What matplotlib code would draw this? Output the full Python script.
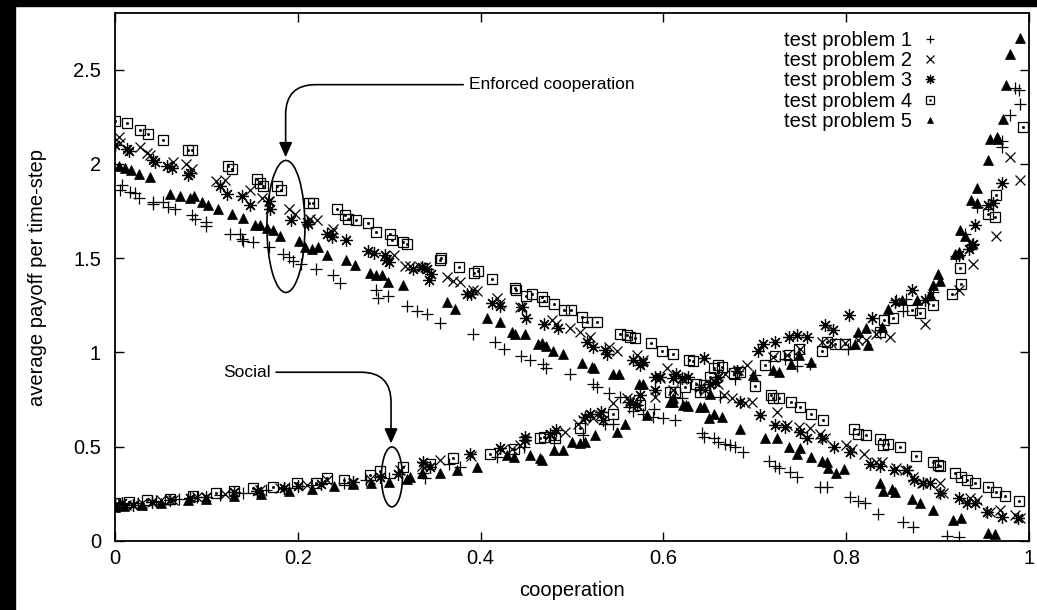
import numpy as np
import matplotlib
matplotlib.use('Agg')
import matplotlib.pyplot as plt
from matplotlib.patches import Ellipse, Rectangle

plt.rcParams['font.family'] = ['Liberation Sans', 'DejaVu Sans']

# (cooperation, payoff) pairs; each problem has a falling and a rising branch
p1_falling = np.array([
    [0.008, 1.89], [0.005, 1.86], [0.016, 1.85], [0.022, 1.845], [0.026, 1.82], [0.042, 1.80],
    [0.042, 1.785], [0.053, 1.80], [0.058, 1.77], [0.066, 1.76], [0.084, 1.73], [0.088, 1.71],
    [0.10, 1.69], [0.10, 1.67], [0.126, 1.63], [0.137, 1.63], [0.139, 1.60], [0.14, 1.59],
    [0.151, 1.585], [0.168, 1.56], [0.184, 1.52], [0.19, 1.505], [0.195, 1.485], [0.204, 1.47],
    [0.22, 1.44], [0.239, 1.41], [0.246, 1.37], [0.286, 1.33], [0.288, 1.29], [0.299, 1.30],
    [0.319, 1.245], [0.33, 1.22], [0.341, 1.205], [0.356, 1.156], [0.392, 1.096], [0.416, 1.056],
    [0.426, 1.02], [0.444, 0.98], [0.454, 0.96], [0.468, 0.94], [0.472, 0.92], [0.498, 0.885],
    [0.523, 0.83], [0.527, 0.815], [0.54, 0.785], [0.553, 0.765], [0.562, 0.711], [0.567, 0.69],
    [0.578, 0.673], [0.589, 0.66], [0.60, 0.65], [0.613, 0.64], [0.642, 0.574], [0.644, 0.55],
    [0.655, 0.544], [0.66, 0.526], [0.667, 0.517], [0.673, 0.508], [0.678, 0.50], [0.687, 0.473],
    [0.715, 0.425], [0.722, 0.397], [0.726, 0.385], [0.739, 0.367], [0.746, 0.34], [0.771, 0.288],
    [0.779, 0.284], [0.804, 0.231], [0.813, 0.213], [0.821, 0.203], [0.835, 0.143], [0.862, 0.102],
    [0.873, 0.076], [0.91, 0.026], [0.923, 0.023]])
p1_rising = np.array([
    [0.0, 0.19], [0.01, 0.195], [0.025, 0.20], [0.045, 0.21], [0.07, 0.225], [0.09, 0.235],
    [0.115, 0.245], [0.14, 0.255], [0.165, 0.27], [0.19, 0.28], [0.215, 0.295], [0.25, 0.31],
    [0.275, 0.325], [0.30, 0.335], [0.337, 0.358], [0.339, 0.332], [0.365, 0.41], [0.377, 0.394],
    [0.418, 0.446], [0.447, 0.50], [0.48, 0.535], [0.512, 0.56], [0.536, 0.623], [0.545, 0.623],
    [0.59, 0.70], [0.62, 0.76], [0.64, 0.80], [0.662, 0.764], [0.678, 0.86], [0.70, 0.88],
    [0.733, 0.967], [0.746, 0.93], [0.76, 0.94], [0.802, 1.02], [0.837, 1.12], [0.855, 1.28],
    [0.862, 1.22], [0.865, 1.285], [0.895, 1.32], [0.92, 1.51], [0.93, 1.63], [0.943, 1.77],
    [0.97, 2.12], [0.971, 2.09], [0.979, 2.26], [0.985, 2.40], [0.989, 2.39], [0.99, 2.32]])

p2_falling = np.array([
    [0.004, 2.14], [0.005, 2.11], [0.027, 2.09], [0.035, 2.06], [0.038, 2.045], [0.064, 2.01],
    [0.078, 2.0], [0.084, 1.975], [0.111, 1.91], [0.12, 1.915], [0.148, 1.86], [0.161, 1.82],
    [0.168, 1.805], [0.19, 1.76], [0.197, 1.735], [0.213, 1.71], [0.221, 1.70], [0.239, 1.655],
    [0.237, 1.64], [0.305, 1.515], [0.317, 1.46], [0.323, 1.46], [0.334, 1.453], [0.339, 1.453],
    [0.363, 1.40], [0.37, 1.38], [0.377, 1.375], [0.392, 1.33], [0.396, 1.325], [0.418, 1.29],
    [0.421, 1.26], [0.443, 1.24], [0.478, 1.174], [0.483, 1.15], [0.498, 1.127], [0.509, 1.11],
    [0.52, 1.08], [0.54, 1.03], [0.549, 1.01], [0.571, 0.985], [0.578, 0.96], [0.604, 0.915],
    [0.62, 0.86], [0.645, 0.80], [0.666, 0.773], [0.675, 0.756], [0.689, 0.733], [0.697, 0.738],
    [0.724, 0.685], [0.735, 0.614], [0.748, 0.605], [0.76, 0.597], [0.771, 0.57], [0.777, 0.544],
    [0.80, 0.508], [0.806, 0.49], [0.82, 0.464], [0.833, 0.42], [0.839, 0.42], [0.855, 0.385],
    [0.864, 0.376], [0.873, 0.34], [0.883, 0.306], [0.892, 0.306], [0.903, 0.306], [0.906, 0.253],
    [0.935, 0.226], [0.943, 0.217], [0.957, 0.155], [0.968, 0.164], [0.985, 0.138], [0.99, 0.12]])
p2_rising = np.array([
    [0.0, 0.185], [0.012, 0.19], [0.03, 0.20], [0.05, 0.215], [0.064, 0.22], [0.09, 0.235],
    [0.12, 0.25], [0.159, 0.27], [0.18, 0.28], [0.21, 0.295], [0.232, 0.323], [0.26, 0.31],
    [0.279, 0.33], [0.312, 0.376], [0.336, 0.40], [0.356, 0.43], [0.39, 0.45], [0.423, 0.48],
    [0.434, 0.49], [0.443, 0.508], [0.476, 0.561], [0.492, 0.579], [0.507, 0.623], [0.512, 0.64],
    [0.523, 0.65], [0.531, 0.667], [0.545, 0.73], [0.56, 0.756], [0.563, 0.747], [0.591, 0.764],
    [0.596, 0.862], [0.611, 0.80], [0.64, 0.817], [0.66, 0.835], [0.667, 0.888], [0.682, 0.906],
    [0.691, 0.932], [0.72, 0.976], [0.735, 0.985], [0.749, 1.02], [0.773, 1.055], [0.783, 1.05],
    [0.799, 1.05], [0.813, 1.065], [0.822, 1.065], [0.833, 1.10], [0.848, 1.08], [0.886, 1.15],
    [0.923, 1.33], [0.939, 1.47], [0.964, 1.62], [0.979, 2.035], [0.99, 1.916]])

p3_falling = np.array([
    [0.0, 2.10], [0.013, 2.08], [0.015, 2.07], [0.042, 2.02], [0.044, 2.01], [0.057, 1.99],
    [0.062, 1.98], [0.082, 1.95], [0.08, 1.94], [0.115, 1.885], [0.122, 1.84], [0.139, 1.83],
    [0.148, 1.78], [0.168, 1.805], [0.17, 1.76], [0.193, 1.70], [0.21, 1.69], [0.211, 1.68],
    [0.232, 1.63], [0.237, 1.61], [0.253, 1.595], [0.277, 1.54], [0.283, 1.525], [0.295, 1.515],
    [0.297, 1.49], [0.30, 1.48], [0.326, 1.444], [0.336, 1.453], [0.341, 1.444], [0.346, 1.418],
    [0.343, 1.386], [0.385, 1.31], [0.39, 1.31], [0.412, 1.26], [0.421, 1.245], [0.445, 1.24],
    [0.45, 1.185], [0.469, 1.15], [0.485, 1.127], [0.516, 1.056], [0.523, 1.03], [0.536, 1.015],
    [0.538, 0.994], [0.567, 0.96], [0.574, 0.932], [0.578, 0.95], [0.596, 0.87], [0.614, 0.888],
    [0.627, 0.87], [0.651, 0.835], [0.656, 0.844], [0.684, 0.738], [0.706, 0.667], [0.722, 0.614],
    [0.733, 0.602], [0.749, 0.579], [0.757, 0.544], [0.773, 0.544], [0.787, 0.50], [0.804, 0.473],
    [0.826, 0.41], [0.837, 0.40], [0.852, 0.376], [0.866, 0.376], [0.874, 0.323], [0.884, 0.306],
    [0.892, 0.309], [0.903, 0.253], [0.923, 0.226], [0.932, 0.20], [0.941, 0.20], [0.954, 0.155],
    [0.97, 0.129], [0.988, 0.12]])
p3_rising = np.array([
    [0.0, 0.19], [0.008, 0.2], [0.02, 0.19], [0.04, 0.205], [0.06, 0.215], [0.082, 0.23],
    [0.1, 0.235], [0.13, 0.26], [0.155, 0.265], [0.185, 0.28], [0.2, 0.29], [0.225, 0.3],
    [0.26, 0.315], [0.29, 0.34], [0.31, 0.355], [0.337, 0.42], [0.345, 0.394], [0.388, 0.464],
    [0.421, 0.491], [0.449, 0.535], [0.449, 0.553], [0.476, 0.57], [0.483, 0.588], [0.514, 0.658],
    [0.52, 0.676], [0.532, 0.685], [0.534, 0.64], [0.563, 0.738], [0.571, 0.72], [0.574, 0.773],
    [0.591, 0.87], [0.591, 0.80], [0.611, 0.862], [0.62, 0.862], [0.644, 0.973], [0.66, 0.87],
    [0.68, 0.90], [0.704, 1.008], [0.709, 1.047], [0.722, 1.056], [0.737, 1.082], [0.746, 1.09],
    [0.757, 1.082], [0.777, 1.144], [0.786, 1.12], [0.803, 1.197], [0.828, 1.185], [0.853, 1.267],
    [0.872, 1.33], [0.886, 1.276], [0.923, 1.515], [0.934, 1.55], [0.938, 1.568], [0.939, 1.577],
    [0.941, 1.674], [0.955, 1.78], [0.961, 1.79], [0.971, 1.90]])

p4_falling = np.array([
    [0.0, 2.226], [0.013, 2.216], [0.027, 2.18], [0.036, 2.16], [0.053, 2.124], [0.08, 2.075],
    [0.084, 2.075], [0.124, 1.99], [0.128, 1.975], [0.155, 1.92], [0.159, 1.90], [0.162, 1.885],
    [0.177, 1.88], [0.182, 1.86], [0.212, 1.79], [0.217, 1.79], [0.243, 1.76], [0.252, 1.727],
    [0.255, 1.71], [0.264, 1.70], [0.277, 1.686], [0.286, 1.64], [0.301, 1.626], [0.303, 1.594],
    [0.315, 1.585], [0.319, 1.577], [0.356, 1.49], [0.357, 1.50], [0.376, 1.453], [0.393, 1.42],
    [0.397, 1.43], [0.412, 1.388], [0.438, 1.344], [0.439, 1.333], [0.45, 1.30], [0.456, 1.31],
    [0.467, 1.294], [0.469, 1.273], [0.48, 1.255], [0.491, 1.227], [0.499, 1.224], [0.511, 1.188],
    [0.516, 1.16], [0.527, 1.16], [0.553, 1.10], [0.56, 1.09], [0.563, 1.08], [0.569, 1.074],
    [0.586, 1.05], [0.598, 1.01], [0.61, 0.99], [0.628, 0.962], [0.632, 0.955], [0.66, 0.932],
    [0.70, 0.82], [0.718, 0.773], [0.72, 0.756], [0.726, 0.756], [0.74, 0.738], [0.749, 0.708],
    [0.762, 0.673], [0.775, 0.641], [0.809, 0.592], [0.813, 0.57], [0.822, 0.561], [0.837, 0.539],
    [0.84, 0.508], [0.846, 0.517], [0.859, 0.496], [0.876, 0.45], [0.895, 0.42], [0.90, 0.403],
    [0.903, 0.397], [0.919, 0.362], [0.926, 0.34], [0.932, 0.323], [0.941, 0.309], [0.955, 0.288],
    [0.964, 0.261], [0.974, 0.238], [0.989, 0.213]])
p4_rising = np.array([
    [0.0, 0.2], [0.015, 0.205], [0.035, 0.215], [0.06, 0.225], [0.085, 0.24], [0.11, 0.255],
    [0.13, 0.265], [0.151, 0.28], [0.173, 0.288], [0.199, 0.305], [0.22, 0.31], [0.232, 0.332],
    [0.25, 0.325], [0.279, 0.35], [0.29, 0.37], [0.315, 0.394], [0.345, 0.41], [0.37, 0.438],
    [0.41, 0.464], [0.436, 0.49], [0.465, 0.544], [0.469, 0.553], [0.481, 0.544], [0.509, 0.597],
    [0.545, 0.676], [0.574, 0.72], [0.607, 0.79], [0.613, 0.79], [0.624, 0.817], [0.636, 0.835],
    [0.64, 0.79], [0.644, 0.826], [0.651, 0.87], [0.655, 0.915], [0.664, 0.923], [0.677, 0.89],
    [0.684, 0.897], [0.711, 0.932], [0.722, 0.98], [0.737, 0.985], [0.748, 1.02], [0.773, 1.01],
    [0.779, 1.056], [0.788, 1.047], [0.799, 1.047], [0.837, 1.11], [0.841, 1.17], [0.851, 1.185],
    [0.872, 1.224], [0.881, 1.21], [0.895, 1.25], [0.916, 1.31], [0.925, 1.45], [0.926, 1.365],
    [0.955, 1.735], [0.963, 1.718], [0.964, 1.833], [0.993, 2.198]])

p5_falling = np.array([
    [0.004, 1.986], [0.011, 1.977], [0.018, 1.965], [0.026, 1.947], [0.038, 1.93], [0.06, 1.84],
    [0.071, 1.827], [0.082, 1.82], [0.086, 1.827], [0.095, 1.80], [0.102, 1.78], [0.113, 1.76],
    [0.128, 1.736], [0.14, 1.714], [0.153, 1.674], [0.159, 1.677], [0.166, 1.66], [0.173, 1.647],
    [0.181, 1.615], [0.201, 1.59], [0.208, 1.56], [0.215, 1.55], [0.222, 1.56], [0.232, 1.515],
    [0.253, 1.49], [0.263, 1.462], [0.279, 1.42], [0.286, 1.41], [0.292, 1.41], [0.299, 1.373],
    [0.315, 1.356], [0.363, 1.267], [0.372, 1.232], [0.407, 1.185], [0.421, 1.16], [0.434, 1.108],
    [0.438, 1.10], [0.449, 1.096], [0.463, 1.043], [0.467, 1.05], [0.472, 1.033], [0.479, 1.01],
    [0.49, 0.994], [0.511, 0.945], [0.522, 0.923], [0.524, 0.92], [0.545, 0.885], [0.551, 0.885],
    [0.578, 0.83], [0.61, 0.76], [0.627, 0.715], [0.64, 0.711], [0.644, 0.711], [0.655, 0.676],
    [0.65, 0.65], [0.664, 0.655], [0.684, 0.592], [0.711, 0.544], [0.724, 0.544], [0.737, 0.496],
    [0.749, 0.491], [0.746, 0.461], [0.762, 0.443], [0.773, 0.425], [0.779, 0.42], [0.78, 0.385],
    [0.789, 0.358], [0.798, 0.38], [0.837, 0.309], [0.84, 0.266], [0.85, 0.274], [0.853, 0.261],
    [0.872, 0.221], [0.881, 0.203], [0.895, 0.164], [0.917, 0.111], [0.926, 0.12], [0.955, 0.044],
    [0.963, 0.037]])
p5_rising = np.array([
    [0.0, 0.18], [0.01, 0.185], [0.03, 0.19], [0.05, 0.2], [0.08, 0.215], [0.1, 0.225],
    [0.13, 0.24], [0.16, 0.25], [0.19, 0.265], [0.215, 0.275], [0.24, 0.29], [0.26, 0.3],
    [0.28, 0.305], [0.30, 0.314], [0.32, 0.33], [0.323, 0.34], [0.336, 0.358], [0.356, 0.358],
    [0.374, 0.376], [0.396, 0.394], [0.429, 0.455], [0.436, 0.446], [0.454, 0.455], [0.465, 0.438],
    [0.467, 0.429], [0.48, 0.482], [0.49, 0.482], [0.50, 0.526], [0.509, 0.52], [0.514, 0.526],
    [0.525, 0.561], [0.549, 0.579], [0.558, 0.623], [0.573, 0.835], [0.582, 0.667], [0.607, 0.738],
    [0.611, 0.738], [0.621, 0.72], [0.625, 0.72], [0.651, 0.782], [0.698, 0.88], [0.72, 0.906],
    [0.726, 0.897], [0.74, 0.94], [0.748, 0.985], [0.762, 0.95], [0.81, 1.047], [0.813, 1.11],
    [0.822, 1.127], [0.824, 1.04], [0.839, 1.135], [0.846, 1.232], [0.861, 1.276], [0.877, 1.276],
    [0.892, 1.31], [0.895, 1.356], [0.90, 1.418], [0.903, 1.38], [0.919, 1.524], [0.923, 1.53],
    [0.925, 1.65], [0.93, 1.62], [0.937, 1.81], [0.943, 1.79], [0.943, 1.87], [0.955, 2.02],
    [0.957, 2.13], [0.965, 2.14], [0.966, 2.13], [0.972, 2.24], [0.975, 2.42], [0.979, 2.58],
    [0.99, 2.67]])

labels = ['test problem 1', 'test problem 2', 'test problem 3', 'test problem 4', 'test problem 5']
x_ticks = [0, 0.2, 0.4, 0.6, 0.8, 1]
x_ticklabels = ['0', '0.2', '0.4', '0.6', '0.8', '1']
y_ticks = [0, 0.5, 1, 1.5, 2, 2.5]
y_ticklabels = ['0', '0.5', '1', '1.5', '2', '2.5']

fig = plt.figure(figsize=(10.37, 6.10), dpi=100)
# black strips along the top and left edge of the original screenshot
fig.patches.append(Rectangle((0, 1 - 6 / 610), 1, 6 / 610, transform=fig.transFigure,
                             color='black', zorder=0))
fig.patches.append(Rectangle((0, 0), 15 / 1037, 1, transform=fig.transFigure,
                             color='black', zorder=0))

ax = fig.add_axes([115 / 1037, 1 - 541 / 610, 914 / 1037, 528 / 610])

styles = [
    dict(marker='+', ms=8, mew=0.9, color='black'),
    dict(marker='x', ms=7, mew=0.9, color='black'),
    dict(marker=(8, 2, 0), ms=9, mew=0.9, color='black'),
    dict(marker='s', ms=7, mew=0.9, mfc='none', mec='black'),
    dict(marker='^', ms=6.5, mew=0.5, color='black'),
]
data = [(p1_falling, p1_rising), (p2_falling, p2_rising), (p3_falling, p3_rising),
        (p4_falling, p4_rising), (p5_falling, p5_rising)]

handles = []
for i, ((fall, rise), st) in enumerate(zip(data, styles)):
    pts = np.vstack([fall, rise])
    h, = ax.plot(pts[:, 0], pts[:, 1], ls='none', **st)
    if i == 3:
        # gnuplot's open square carries a dot in the middle
        d, = ax.plot(pts[:, 0], pts[:, 1], ls='none', marker='s', ms=1.0, color='black')
        handles.append((h, d))
    else:
        handles.append(h)

ax.legend(handles, labels, loc='upper right', bbox_to_anchor=(0.9026, 0.966),
          frameon=False, markerfirst=False, fontsize=14.5, handlelength=1.0,
          handletextpad=0.4, labelspacing=0.06, borderpad=0, borderaxespad=0,
          markerscale=0.75)

# annotations
ax.add_patch(Ellipse((0.187, 1.668), 0.0416, 0.70, fill=False, lw=1.2, color='black'))
ax.add_patch(Ellipse((0.303, 0.34), 0.023, 0.318, fill=False, lw=1.2, color='black'))
arrow = dict(arrowstyle='-|>,head_length=0.45,head_width=0.2', mutation_scale=20,
             color='black', lw=1.2, shrinkA=2, shrinkB=0)
ax.annotate('Enforced cooperation', xy=(0.1867, 2.035), xytext=(0.387, 2.42),
            fontsize=12.5, ha='left', va='center',
            arrowprops=dict(connectionstyle='angle,angleA=0,angleB=90,rad=30', **arrow))
ax.annotate('Social', xy=(0.302, 0.517), xytext=(0.118, 0.895),
            fontsize=12.5, ha='left', va='center',
            arrowprops=dict(connectionstyle='angle,angleA=0,angleB=90,rad=30', **arrow))

ax.set_xlim(0, 1)
ax.set_ylim(0, 2.8)
ax.set_xticks(x_ticks)
ax.set_xticklabels(x_ticklabels)
ax.set_yticks(y_ticks)
ax.set_yticklabels(y_ticklabels)
ax.tick_params(direction='in', length=6.5, width=1, top=True, right=True,
               labelsize=14.5)
ax.tick_params(axis='x', pad=6)
ax.tick_params(axis='y', pad=10)
for s in ax.spines.values():
    s.set_linewidth(1.3)

ax.set_xlabel('cooperation', fontsize=14.5)
ax.set_ylabel('average payoff per time-step', fontsize=14.5)
ax.xaxis.set_label_coords(0.5, -0.076)
ax.yaxis.set_label_coords(-0.074, 0.5)

fig.savefig('out.png', dpi=100)
